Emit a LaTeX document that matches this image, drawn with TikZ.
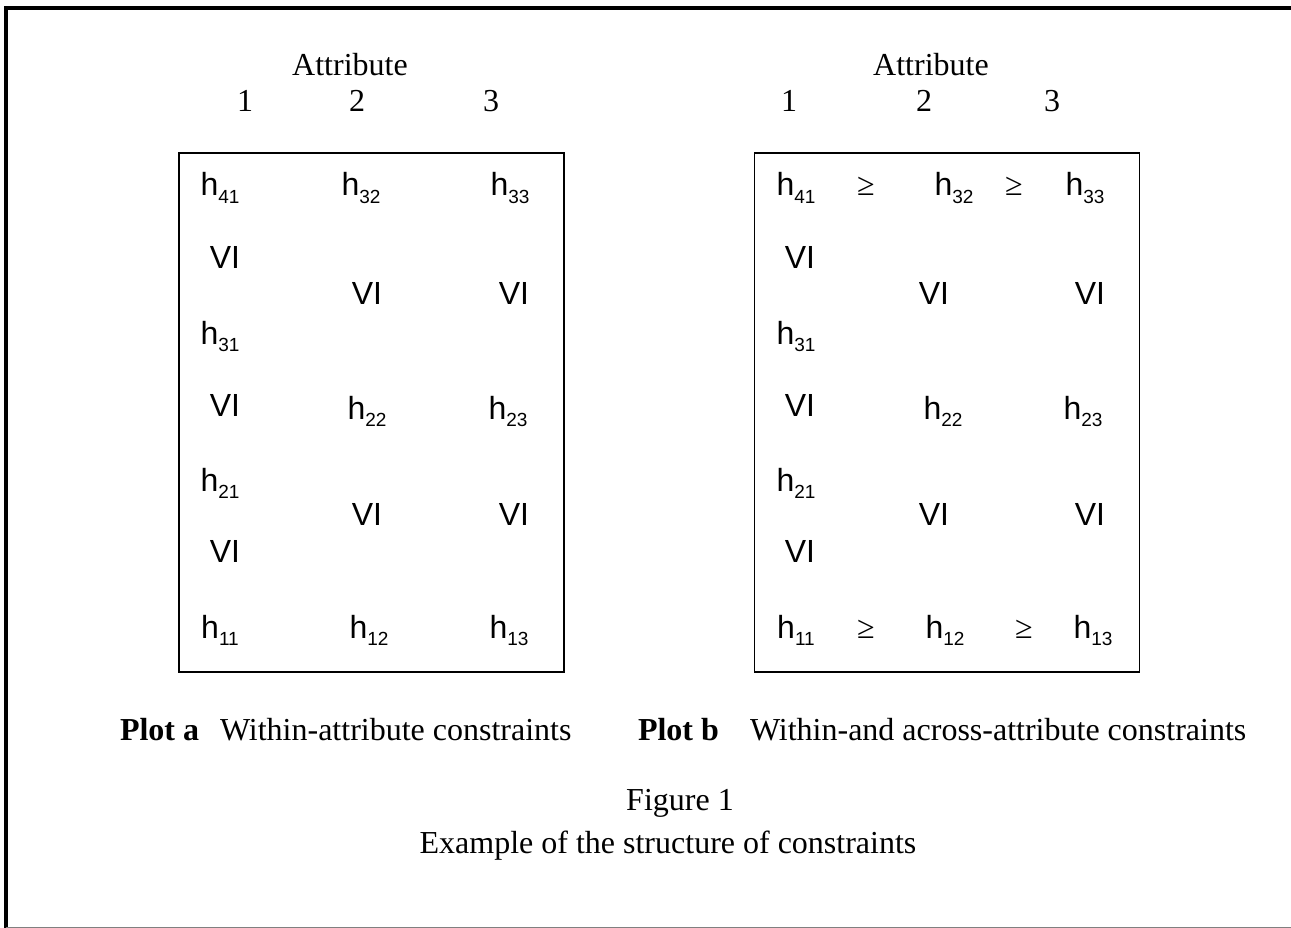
\documentclass[tikz,border=0pt]{standalone}
\usepackage{fontspec}
\setmainfont{Liberation Serif}
\newfontfamily\arialf{Liberation Sans}
\newcommand{\hsub}[1]{{\arialf h\raisebox{-0.22em}{\fontsize{19}{19}\selectfont #1}}}
\begin{document}
\begin{tikzpicture}[x=1pt,y=-1pt,
  every node/.style={inner sep=0pt,outer sep=0pt,font=\fontsize{32}{38}\selectfont},
  lab/.style={anchor=base},
  cell/.style={anchor=base,font=\fontsize{32}{38}\selectfont\arialf},
  geq/.style={anchor=base},
  plotbox/.style={draw,line width=1.4pt,minimum width=385pt,minimum height=519pt}]
\useasboundingbox (0,0) rectangle (1291,928);
% outer frame
\draw[line width=3.5pt] (6,928) -- (6,8) -- (1291,8);
\draw[line width=1pt,gray] (6,927.5) -- (1291,927.5);
% boxes
\node[plotbox] (boxa) at (371.5,412.5) {};
\node[plotbox] (boxb) at (947,412.5) {};
% headers
\node[lab] (atta) at (350,76) {Attribute};
\node[lab] (a1) at (245,112) {1};
\node[lab] (a2) at (357,112) {2};
\node[lab] (a3) at (491,112) {3};
\node[lab] (attb) at (931,76) {Attribute};
\node[lab] (b1) at (789,112) {1};
\node[lab] (b2) at (924,112) {2};
\node[lab] (b3) at (1052,112) {3};
% plot a cells
\node[cell] (pa41) at (220,196) {\hsub{41}};
\node[cell] (pa32) at (361,196) {\hsub{32}};
\node[cell] (pa33) at (510,196) {\hsub{33}};
\node[cell] (pav1) at (225,268.5) {VI};
\node[cell] (pav2) at (367,304.5) {VI};
\node[cell] (pav3) at (514,304.5) {VI};
\node[cell] (pa31) at (220,344) {\hsub{31}};
\node[cell] (pav4) at (225,416.5) {VI};
\node[cell] (pa22) at (367,419) {\hsub{22}};
\node[cell] (pa23) at (508,419) {\hsub{23}};
\node[cell] (pa21) at (220,491) {\hsub{21}};
\node[cell] (pav5) at (367,525.5) {VI};
\node[cell] (pav6) at (514,525.5) {VI};
\node[cell] (pav7) at (225,562.5) {VI};
\node[cell] (pa11) at (220,638) {\hsub{11}};
\node[cell] (pa12) at (369,638) {\hsub{12}};
\node[cell] (pa13) at (509,638) {\hsub{13}};
% plot b cells
\node[cell] (pb41) at (796,196) {\hsub{41}};
\node[geq] (pbg1) at (866,196) {≥};
\node[cell] (pb32) at (954,196) {\hsub{32}};
\node[geq] (pbg2) at (1014,196) {≥};
\node[cell] (pb33) at (1085,196) {\hsub{33}};
\node[cell] (pbv1) at (800,268.5) {VI};
\node[cell] (pbv2) at (934,304.5) {VI};
\node[cell] (pbv3) at (1090,304.5) {VI};
\node[cell] (pb31) at (796,344) {\hsub{31}};
\node[cell] (pbv4) at (800,416.5) {VI};
\node[cell] (pb22) at (943,419) {\hsub{22}};
\node[cell] (pb23) at (1083,419) {\hsub{23}};
\node[cell] (pb21) at (796,491) {\hsub{21}};
\node[cell] (pbv5) at (934,525.5) {VI};
\node[cell] (pbv6) at (1090,525.5) {VI};
\node[cell] (pbv7) at (800,562.5) {VI};
\node[cell] (pb11) at (796,638) {\hsub{11}};
\node[geq] (pbg3) at (866,638) {≥};
\node[cell] (pb12) at (945,638) {\hsub{12}};
\node[geq] (pbg4) at (1024,638) {≥};
\node[cell] (pb13) at (1093,638) {\hsub{13}};
% captions
\node[anchor=base west] (capa1) at (120,740) {\textbf{Plot a}};
\node[anchor=base west] (capa2) at (220,740) {Within-attribute constraints};
\node[anchor=base west] (capb1) at (638,740) {\textbf{Plot b}};
\node[anchor=base west] (capb2) at (750,740) {Within-and across-attribute constraints};
\node[lab] (fig) at (680,810) {Figure 1};
\node[lab] (figt) at (668,853) {Example of the structure of constraints};
\end{tikzpicture}
\end{document}
